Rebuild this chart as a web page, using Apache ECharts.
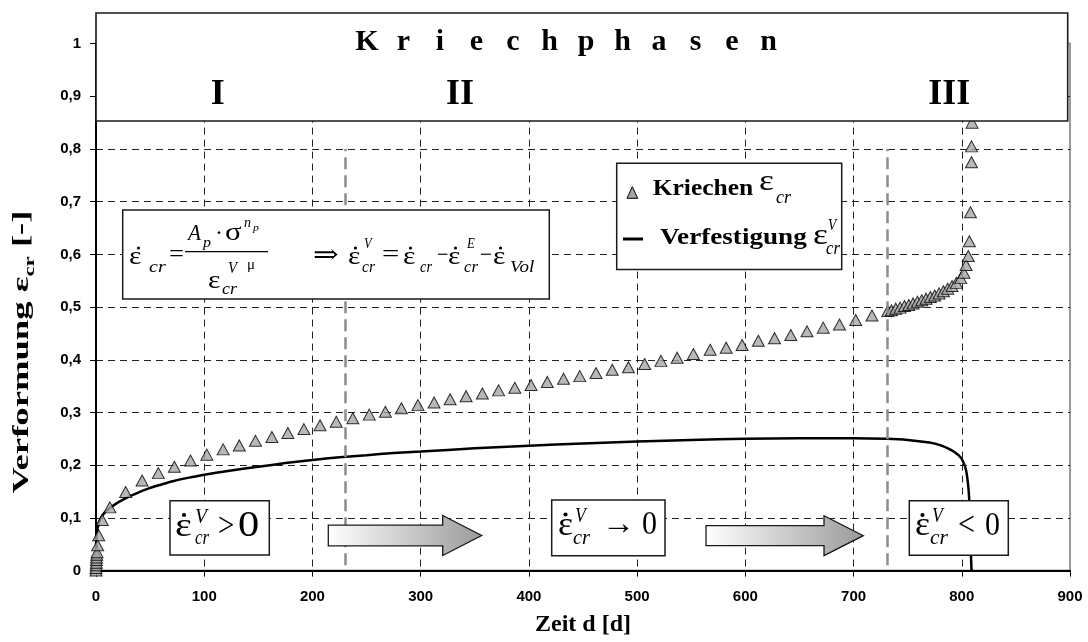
<!DOCTYPE html>
<html><head><meta charset="utf-8">
<script src="https://cdn.jsdelivr.net/npm/echarts@6/dist/echarts.min.js"></script>
<style>html,body{margin:0;padding:0;background:#fff}#c{width:1088px;height:642px}</style>
</head><body><div id="c"></div>
<script>
// ---------- data ----------
const xTickLabels = ['0','100','200','300','400','500','600','700','800','900'];
const yTickLabels = ['0','0,1','0,2','0,3','0,4','0,5','0,6','0,7','0,8','0,9','1'];

// Kriechen (triangles)
const kriechenDays = [0,0,0.2,0.3,0.4,0.5,0.7,1,1.5,2.5,5.8,12.8,27.4,42.6,57.6,72.4,87.3,102.4,117.5,132.4,147.4,162.5,177.3,192.1,207,222,237.3,252.5,267.4,282.2,297.5,312.4,327.2,342,357,372,387,402,417,432,447,462,477,492,507,522,537,552,567.5,582.3,597,612,627,642,657,672,687,702,717,731.6,735,739,743,747,751,755,759,763,767,771,775,779,783,787,791,795,799,802,804,806,807,808,809,809,809.5];
const kriechenVals = [0,0.005,0.01,0.015,0.02,0.025,0.03,0.035,0.048,0.067,0.096,0.12,0.149,0.171,0.185,0.197,0.209,0.22,0.23,0.2375,0.2462,0.2535,0.261,0.2685,0.2757,0.2823,0.289,0.296,0.3015,0.308,0.314,0.319,0.325,0.331,0.336,0.342,0.347,0.352,0.358,0.364,0.369,0.375,0.381,0.386,0.392,0.398,0.404,0.411,0.419,0.423,0.428,0.436,0.441,0.447,0.454,0.461,0.467,0.4755,0.484,0.4926,0.494,0.497,0.499,0.502,0.504,0.507,0.51,0.513,0.516,0.519,0.522,0.526,0.53,0.535,0.54,0.546,0.555,0.565,0.58,0.597,0.625,0.68,0.775,0.805,0.85];

// Verfestigung (line)
const verfDays = [0,0.5,1.5,3,6,10,15,20,30,40,50,60,70,80,90,100,125,150,175,200,225,250,275,300,350,400,450,500,550,600,650,700,730,750,770,780,790,797,801,804,806,807,808,808.5,809];
const verfVals = [0,0.06,0.08,0.093,0.105,0.114,0.122,0.129,0.14,0.149,0.157,0.163,0.169,0.174,0.178,0.182,0.19,0.197,0.204,0.21,0.215,0.219,0.223,0.226,0.232,0.237,0.241,0.245,0.248,0.25,0.251,0.251,0.25,0.248,0.243,0.238,0.229,0.219,0.208,0.19,0.16,0.13,0.08,0.03,0];

// phase boundaries (days)
const phaseBounds = [230, 731];
const phaseNames = ['I','II','III'];
const headerLetters = 'Kriechphasen'.split('');

// ---------- helpers ----------
const SERIF = '"Liberation Serif","Times New Roman","DejaVu Serif",serif';
const SANS = '"Liberation Sans",Arial,sans-serif';
const mctx = document.createElement('canvas').getContext('2d');
function fontStr(size, st){ st = st||''; return (st.indexOf('i')>=0?'italic ':'') + (st.indexOf('b')>=0?'bold ':'') + size + 'px ' + SERIF; }
function tw(text, size, st){ mctx.font = fontStr(size, st); return mctx.measureText(text).width; }
function txt(text, x, base, size, st, align, scaleX){
  return {type:'text', x:x, y: base - 0.3375*size, z:110, scaleX: scaleX||1,
    style:{text:text, font:fontStr(size, st), fill:'#000', align:align||'left', verticalAlign:'middle'}};
}
// fit text horizontally into [x0, x1] (moderate stretch only)
function fw(text, x0, x1, base, size, st){
  const s = Math.max(0.85, Math.min(1.18, (x1-x0)/tw(text,size,st)));
  return txt(text, x0, base, size, st, 'left', s);
}
function dot(x, y, r){ return {type:'circle', z:120, shape:{cx:x, cy:y, r:r||1.6}, style:{fill:'#000'}}; }
function box(x, y, w, h, lw){ return {type:'rect', z:100, shape:{x:x, y:y, width:w, height:h}, style:{fill:'#fff', stroke:'#1a1a1a', lineWidth:lw||1.5}}; }
function arrow(x0, x1, x2, yc, bh, hh){
  return {type:'polygon', z:100, shape:{points:[[x0,yc-bh],[x1,yc-bh],[x1,yc-hh],[x2,yc],[x1,yc+hh],[x1,yc+bh],[x0,yc+bh]]},
    style:{fill:new echarts.graphic.LinearGradient(0,0,1,0,[{offset:0,color:'#ffffff'},{offset:1,color:'#9a9a9a'}]), stroke:'#1a1a1a', lineWidth:1.3}};
}

const G = [];
// header box
G.push(box(96, 13, 971.7, 108, 1.6));
headerLetters.forEach((ch, i) => G.push(txt(ch, 367 + i*36.5, 52.7, 30, 'b', 'center')));
const romanX = [217.7, 460, 949.3];
phaseNames.forEach((p, i) => G.push(txt(p, romanX[i], 107.3, 36, 'b', 'center')));

// formula box
G.push(box(122.7, 210, 426.6, 89, 1.5));
G.push(fw('ε', 129, 147, 265.5, 25, ''), dot(138.5, 248), fw('cr', 149, 166, 273, 17, 'i'));
G.push(fw('=', 169, 184, 264, 26, ''));
G.push({type:'line', z:110, shape:{x1:185, y1:251.7, x2:268, y2:251.7}, style:{stroke:'#000', lineWidth:1.2}});
G.push(fw('A', 188, 201, 241.7, 24, 'i'), fw('p', 203, 211, 248, 15, 'i'), txt('·', 215, 241.7, 24, ''), fw('σ', 225, 243, 241.7, 26, ''), fw('n', 244, 251, 228, 14, 'i'), fw('p', 253, 260, 232, 10, 'i'));
G.push(fw('ε', 208, 222, 289.5, 25, ''), fw('cr', 222, 237, 295, 16, 'i'), fw('V', 228, 237, 274, 16, 'i'), txt('μ', 247, 270, 15, ''));
G.push(fw('⇒', 313, 339, 265, 26, ''));
G.push(fw('ε', 348, 363, 265.5, 25, ''), dot(355.5, 248), fw('V', 364, 370, 249, 15, 'i'), fw('cr', 362, 375, 273, 16, 'i'));
G.push(fw('=', 382, 400, 264, 26, ''));
G.push(fw('ε', 403, 418, 265.5, 25, ''), dot(410.5, 248), fw('cr', 420, 432, 273, 16, 'i'));
G.push(fw('−', 437, 448, 264, 24, ''));
G.push(fw('ε', 448, 463, 265.5, 25, ''), dot(455.5, 248), fw('E', 467, 474, 249, 15, 'i'), fw('cr', 464, 478, 273, 16, 'i'));
G.push(fw('−', 480, 492, 264, 24, ''));
G.push(fw('ε', 493, 508, 265.5, 25, ''), dot(500.5, 248), fw('Vol', 510, 543, 273, 16, 'i'));

// legend box
G.push(box(616.7, 163.3, 225, 106.2, 1.5));
G.push({type:'polygon', z:110, shape:{points:[[627,198.3],[637.7,198.3],[632.3,186.7]]}, style:{fill:'#a6a6a6', stroke:'#000', lineWidth:1}});
G.push(fw('Kriechen', 652.7, 753.3, 197, 23, 'b'));
G.push(fw('ε', 759, 775, 192, 30, ''), fw('cr', 776, 791, 204, 18, 'i'));
G.push({type:'line', z:110, shape:{x1:623, y1:239, x2:643, y2:239}, style:{stroke:'#000', lineWidth:3}});
G.push(fw('Verfestigung', 660, 810, 246, 23, 'b'));
G.push(fw('ε', 813, 829, 246, 30, ''), fw('V', 828, 835, 231, 16, 'i'), fw('cr', 826, 840, 255, 18, 'i'));

// bottom boxes
G.push(box(170, 500.7, 99.3, 54.3, 1.5));
G.push(fw('ε', 175, 193, 538.5, 34, ''), dot(184, 515, 2.1), fw('V', 195, 207, 525, 21, 'i'), fw('cr', 195, 208, 545, 20, 'i'), fw('>', 218, 233, 539, 34, ''), fw('0', 238, 262, 539, 36, ''));
G.push(box(551.7, 500, 113.3, 55.7, 1.5));
G.push(fw('ε', 558, 573, 537.5, 34, ''), dot(565.5, 514.5, 2.1), fw('V', 575, 585, 524, 21, 'i'), fw('cr', 573, 590, 545, 20, 'i'), fw('→', 602, 635, 537, 34, ''), fw('0', 642, 657, 537, 34, ''));
G.push(box(909.3, 500.7, 99, 54.6, 1.5));
G.push(fw('ε', 915, 930, 537.5, 34, ''), dot(922.5, 515, 2.1), fw('V', 932, 942, 524, 21, 'i'), fw('cr', 930, 948, 545, 20, 'i'), fw('<', 958, 975, 538, 34, ''), fw('0', 985, 1000, 538, 34, ''));

// arrows
G.push(arrow(328.3, 442.7, 481.7, 535.5, 10.3, 20));
G.push(arrow(706, 824, 863.3, 535.7, 10, 20));

// y axis title (rotated group)
(function(){
  const s1 = 'Verformung ε', s2 = 'cr', s3 = ' [-]';
  const fs = 24, fsub = 15;
  const w1 = tw(s1, fs, 'b'), w2 = tw(s2, fsub, 'b'), w3 = tw(s3, fs, 'b');
  const W = w1 + w2 + w3;
  const base = 0.22*fs;
  const x0 = -W/2;
  G.push({type:'group', x:25, y:352, rotation:Math.PI/2, scaleX: 283/W, z:110, children:[
    txt(s1, x0, base, fs, 'b'),
    txt(s2, x0 + w1, base + 5, fsub, 'b'),
    txt(s3, x0 + w1 + w2, base, fs, 'b')
  ]});
})();

// ---------- chart ----------
const chart = echarts.init(document.getElementById('c'), null, {renderer:'canvas'});
const dashGrid = {show:true, showMinLine:false, showMaxLine:false, lineStyle:{color:'#222', width:1, type:[7,5]}};
chart.setOption({
  animation:false,
  backgroundColor:'#fff',
  grid:{left:96, right:18, top:43.6, bottom:71.4, show:true, borderColor:'#999', borderWidth:2, backgroundColor:'transparent'},
  xAxis:{type:'value', min:0, max:900, interval:100,
    name:'Zeit d [d]', nameLocation:'middle', nameGap:42,
    nameTextStyle:{fontFamily:SERIF, fontWeight:'bold', fontSize:24, color:'#000'},
    axisLine:{show:true, onZero:false, lineStyle:{color:'#000', width:2}},
    axisTick:{show:true, length:6, lineStyle:{color:'#000', width:1}},
    axisLabel:{margin:19, color:'#000', fontFamily:SANS, fontWeight:'bold', fontSize:15,
      formatter:(v)=>xTickLabels[Math.round(v/100)]},
    splitLine:dashGrid},
  yAxis:{type:'value', min:0, max:1, interval:0.1,
    axisLine:{show:true, onZero:false, lineStyle:{color:'#000', width:2}},
    axisTick:{show:true, length:6, lineStyle:{color:'#000', width:1}},
    axisLabel:{margin:15, color:'#000', fontFamily:SANS, fontWeight:'bold', fontSize:15,
      formatter:(v)=>yTickLabels[Math.round(v*10)]},
    splitLine:dashGrid},
  series:[
    {type:'line', name:'Verfestigung', data:verfDays.map((d,i)=>[d, verfVals[i]]),
      showSymbol:false, smooth:0.25, z:2,
      lineStyle:{color:'#000', width:2.5}, emphasis:{disabled:true},
      markLine:{silent:true, symbol:['none','none'], label:{show:false},
        lineStyle:{color:'#8c8c8c', width:2.5, type:[12,6]}, emphasis:{disabled:true},
        data: phaseBounds.map(x=>[{coord:[x,0.01]},{coord:[x,0.8]}])}},
    {type:'scatter', name:'Kriechen', data:kriechenDays.map((d,i)=>[d, kriechenVals[i]]),
      symbol:'triangle', symbolSize:[12,11], z:3,
      itemStyle:{color:'#a6a6a6', borderColor:'#000', borderWidth:1}, emphasis:{disabled:true}}
  ],
  graphic:{elements:G}
});
</script>
</body></html>
